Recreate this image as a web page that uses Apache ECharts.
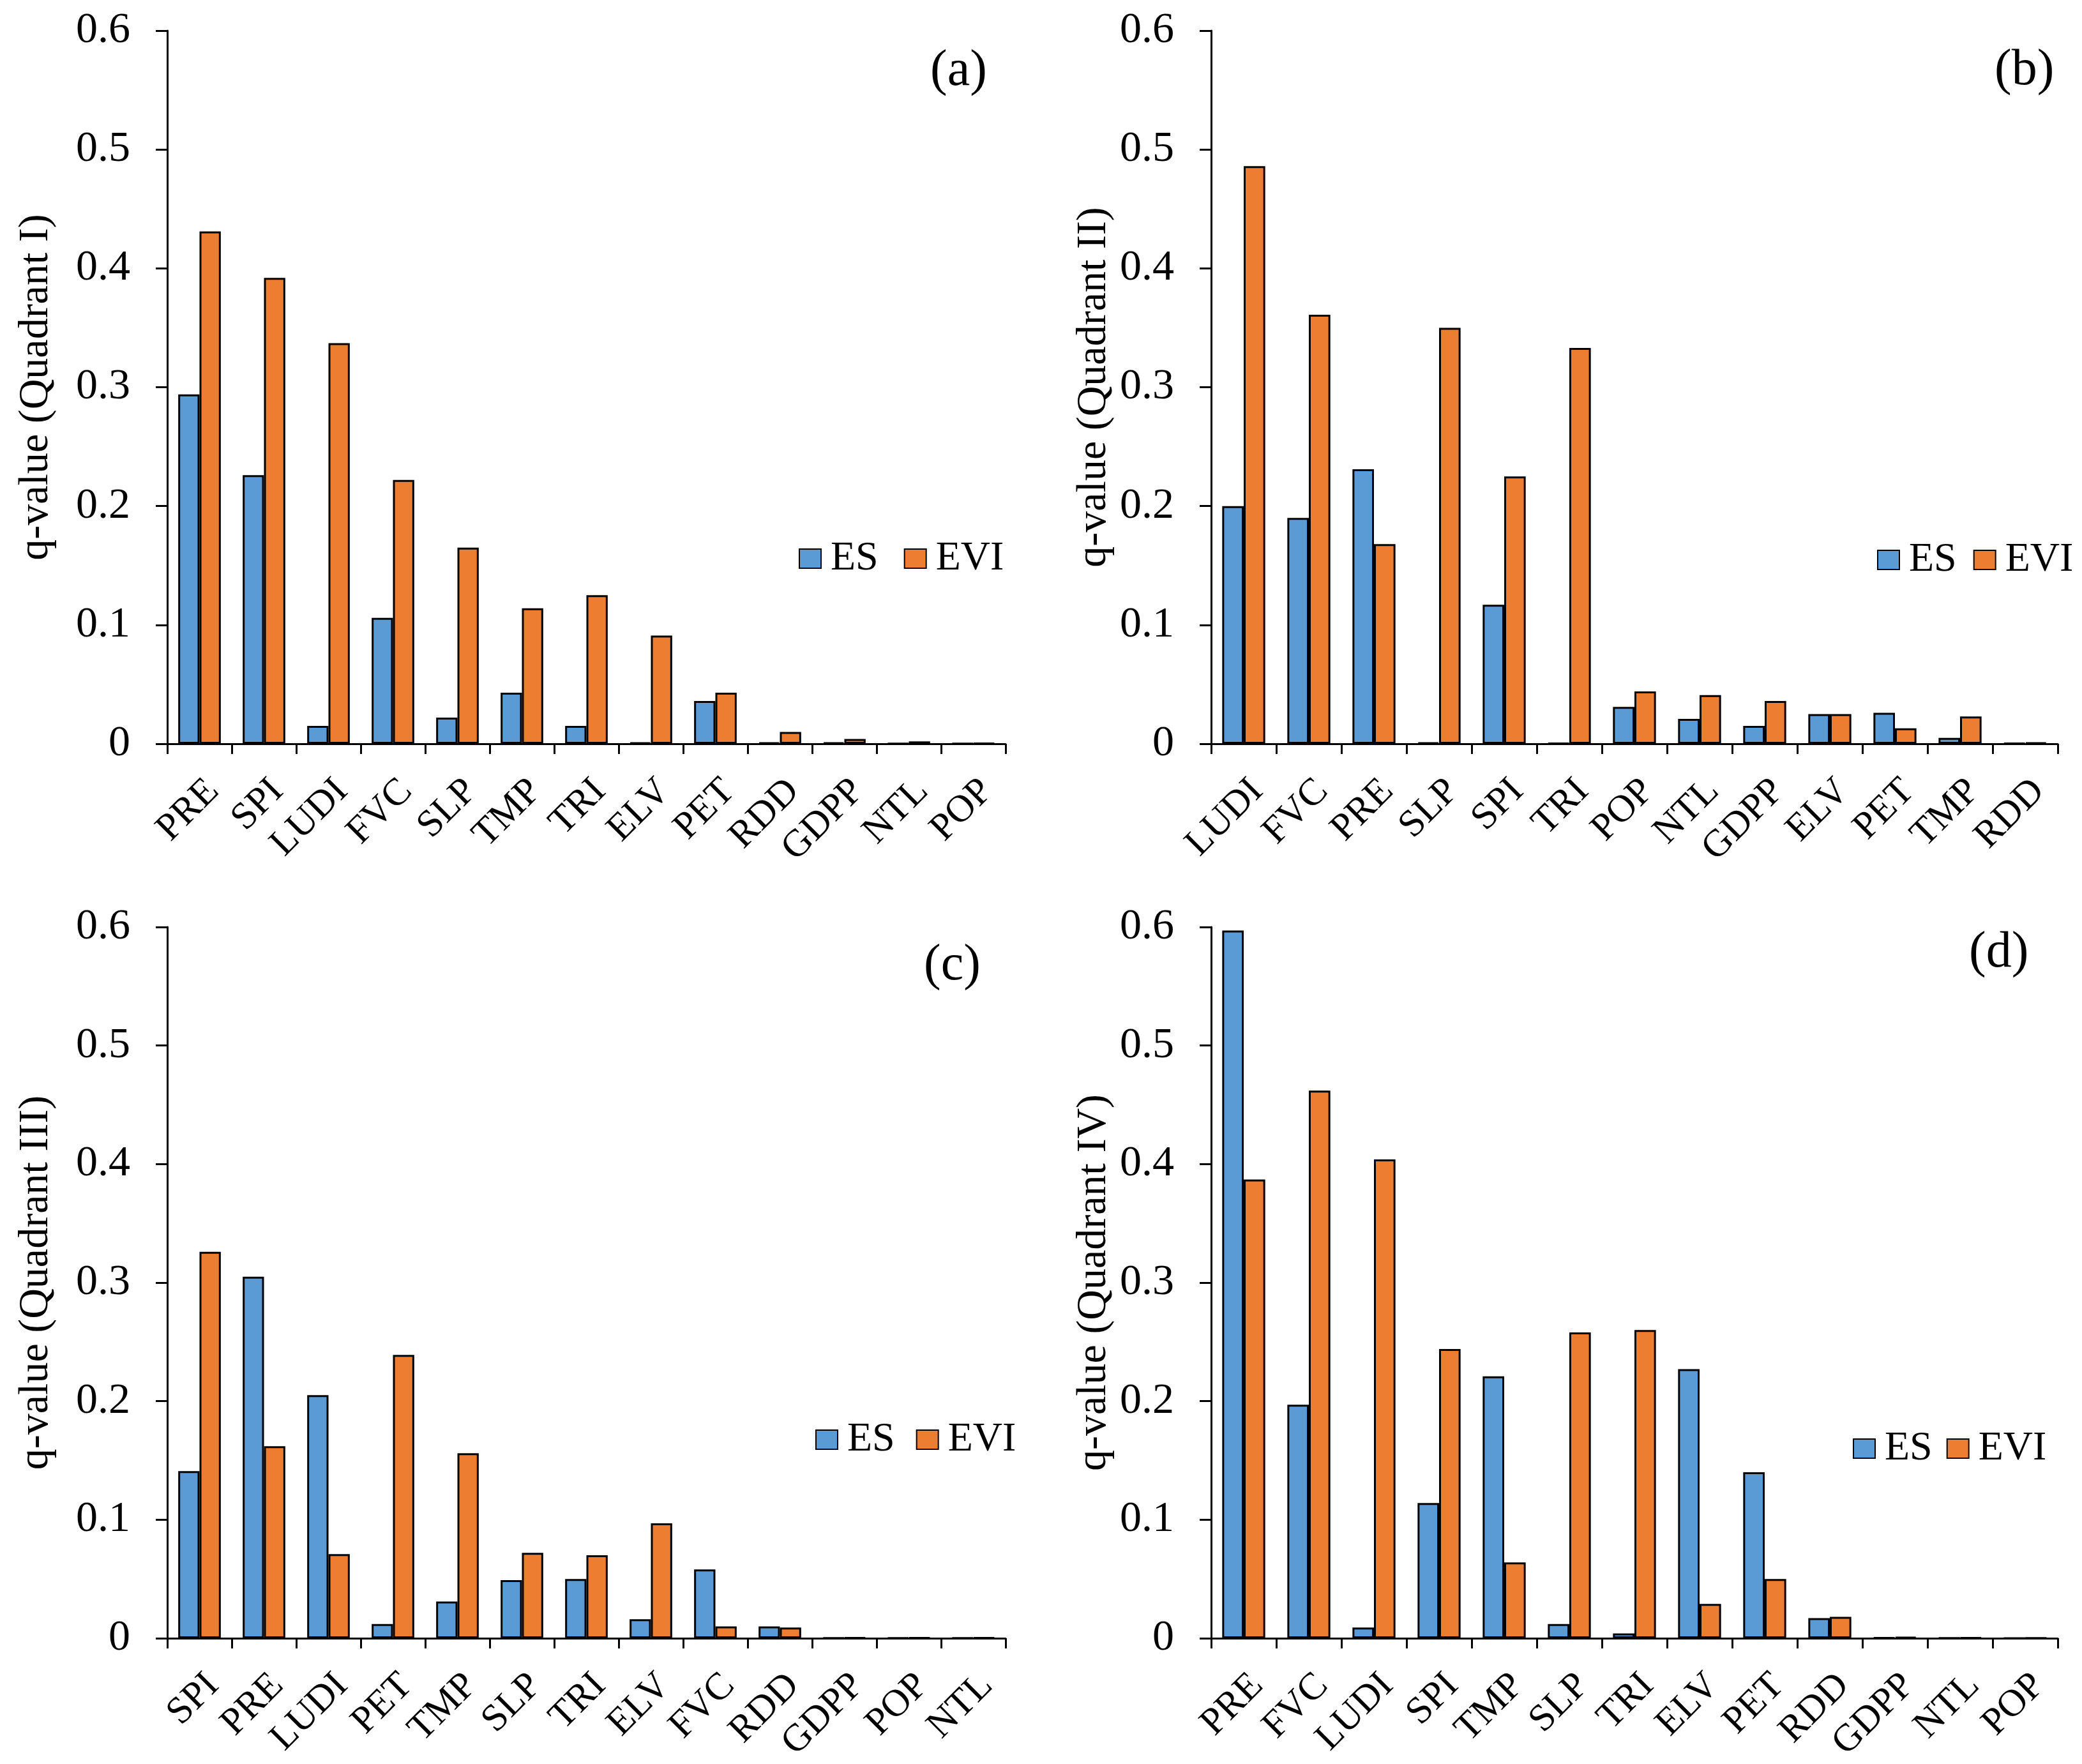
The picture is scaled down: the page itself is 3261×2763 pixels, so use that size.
<!DOCTYPE html>
<html>
<head>
<meta charset="utf-8">
<script src="https://cdn.jsdelivr.net/npm/echarts@6/dist/echarts.min.js"></script>
<style>
html,body{margin:0;padding:0;background:#fff;}
#chart{width:3261px;height:2763px;}
</style>
</head>
<body>
<div id="chart"></div>
<script>
// ---------- data ----------
var catsA = ['PRE','SPI','LUDI','FVC','SLP','TMP','TRI','ELV','PET','RDD','GDPP','NTL','POP'];
var esA   = [0.294,0.226,0.015,0.106,0.022,0.043,0.015,0.001,0.036,0.001,0.001,0.0003,0.0002];
var eviA  = [0.431,0.392,0.337,0.222,0.165,0.114,0.125,0.091,0.043,0.010,0.004,0.002,0.0005];

var catsB = ['LUDI','FVC','PRE','SLP','SPI','TRI','POP','NTL','GDPP','ELV','PET','TMP','RDD'];
var esB   = [0.200,0.190,0.231,0.001,0.117,0.0005,0.031,0.021,0.015,0.025,0.026,0.005,0.0005];
var eviB  = [0.486,0.361,0.168,0.350,0.225,0.333,0.044,0.041,0.036,0.025,0.013,0.023,0.001];

var catsC = ['SPI','PRE','LUDI','PET','TMP','SLP','TRI','ELV','FVC','RDD','GDPP','POP','NTL'];
var esC   = [0.141,0.305,0.205,0.012,0.031,0.049,0.050,0.016,0.058,0.010,0.0002,0.0003,0.0003];
var eviC  = [0.326,0.162,0.071,0.239,0.156,0.072,0.070,0.097,0.010,0.009,0.0005,0.0005,0.0005];

var catsD = ['PRE','FVC','LUDI','SPI','TMP','SLP','TRI','ELV','PET','RDD','GDPP','NTL','POP'];
var esD   = [0.597,0.197,0.009,0.114,0.221,0.012,0.004,0.227,0.140,0.017,0.0005,0.0002,0.0001];
var eviD  = [0.387,0.462,0.404,0.244,0.064,0.258,0.260,0.029,0.050,0.018,0.001,0.0005,0.0002];

var yTitles = ['q-value (Quadrant I)','q-value (Quadrant II)','q-value (Quadrant III)','q-value (Quadrant IV)'];
var panelTags = ['(a)','(b)','(c)','(d)'];
var seriesNames = ['ES','EVI'];

// ---------- layout / style ----------
var FONT = '"Liberation Serif", "Times New Roman", serif';
var BLUE = '#5B9BD5', ORANGE = '#ED7D31';
var grids = [
  {left:262,  top:48,   width:1313, height:1117},
  {left:1897, top:48,   width:1326, height:1117},
  {left:262,  top:1452, width:1313, height:1117},
  {left:1897, top:1452, width:1326, height:1117}
];
var nameGaps = [172, 150, 172, 150];
var legendPos = [
  {left:1246, top:838, gap:40},
  {left:2935, top:840, gap:26},
  {left:1272, top:2218, gap:33},
  {left:2897, top:2232, gap:22}
];
var tagPos = [
  {x:1505, y:116},
  {x:3172, y:115},
  {x:1495, y:1517},
  {x:3132, y:1497}
];

var cats = [catsA, catsB, catsC, catsD];
var esAll = [esA, esB, esC, esD];
var eviAll = [eviA, eviB, eviC, eviD];

var option = {
  animation:false,
  backgroundColor:'#fff',
  textStyle:{fontFamily:FONT, color:'#000'},
  grid:[], xAxis:[], yAxis:[], series:[], legend:[], graphic:[]
};

for (var i = 0; i < 4; i++) {
  option.grid.push(grids[i]);
  option.xAxis.push({
    type:'category', gridIndex:i, data:cats[i],
    axisLine:{lineStyle:{color:'#000', width:3}},
    axisTick:{show:true, interval:0, length:16, lineStyle:{color:'#000', width:3}},
    axisLabel:{interval:0, rotate:45, fontSize:60, fontFamily:FONT, color:'#000', margin:44, verticalAlign:'top'},
    splitLine:{show:false}
  });
  option.yAxis.push({
    type:'value', gridIndex:i, min:0, max:0.6, interval:0.1,
    name:yTitles[i], nameLocation:'middle', nameGap:nameGaps[i], nameRotate:90,
    nameTextStyle:{fontSize:66, fontFamily:FONT, color:'#000'},
    axisLine:{show:true, lineStyle:{color:'#000', width:3}},
    axisTick:{show:true, length:18, lineStyle:{color:'#000', width:3}},
    axisLabel:{fontSize:68, fontFamily:FONT, color:'#000', margin:58},
    splitLine:{show:false}
  });
  option.series.push({
    name:seriesNames[0], type:'bar', xAxisIndex:i, yAxisIndex:i, data:esAll[i],
    barGap:'0%', barCategoryGap:'34%',
    itemStyle:{color:BLUE, borderColor:'#000', borderWidth:3}
  });
  option.series.push({
    name:seriesNames[1], type:'bar', xAxisIndex:i, yAxisIndex:i, data:eviAll[i],
    barGap:'0%', barCategoryGap:'34%',
    itemStyle:{color:ORANGE, borderColor:'#000', borderWidth:3}
  });
  option.legend.push({
    data:seriesNames, left:legendPos[i].left, top:legendPos[i].top,
    orient:'horizontal', icon:'rect', itemWidth:34, itemHeight:30,
    itemGap:legendPos[i].gap, selectedMode:false,
    textStyle:{fontSize:64, fontFamily:FONT, color:'#000', padding:[0,0,0,10]}
  });
  option.graphic.push({
    type:'text', left:tagPos[i].x - 48, top:tagPos[i].y - 44,
    style:{text:panelTags[i], font:'80px "Liberation Serif", serif', fill:'#000'}
  });
}

var chart = echarts.init(document.getElementById('chart'), null, {renderer:'canvas'});
chart.setOption(option);
</script>
</body>
</html>
